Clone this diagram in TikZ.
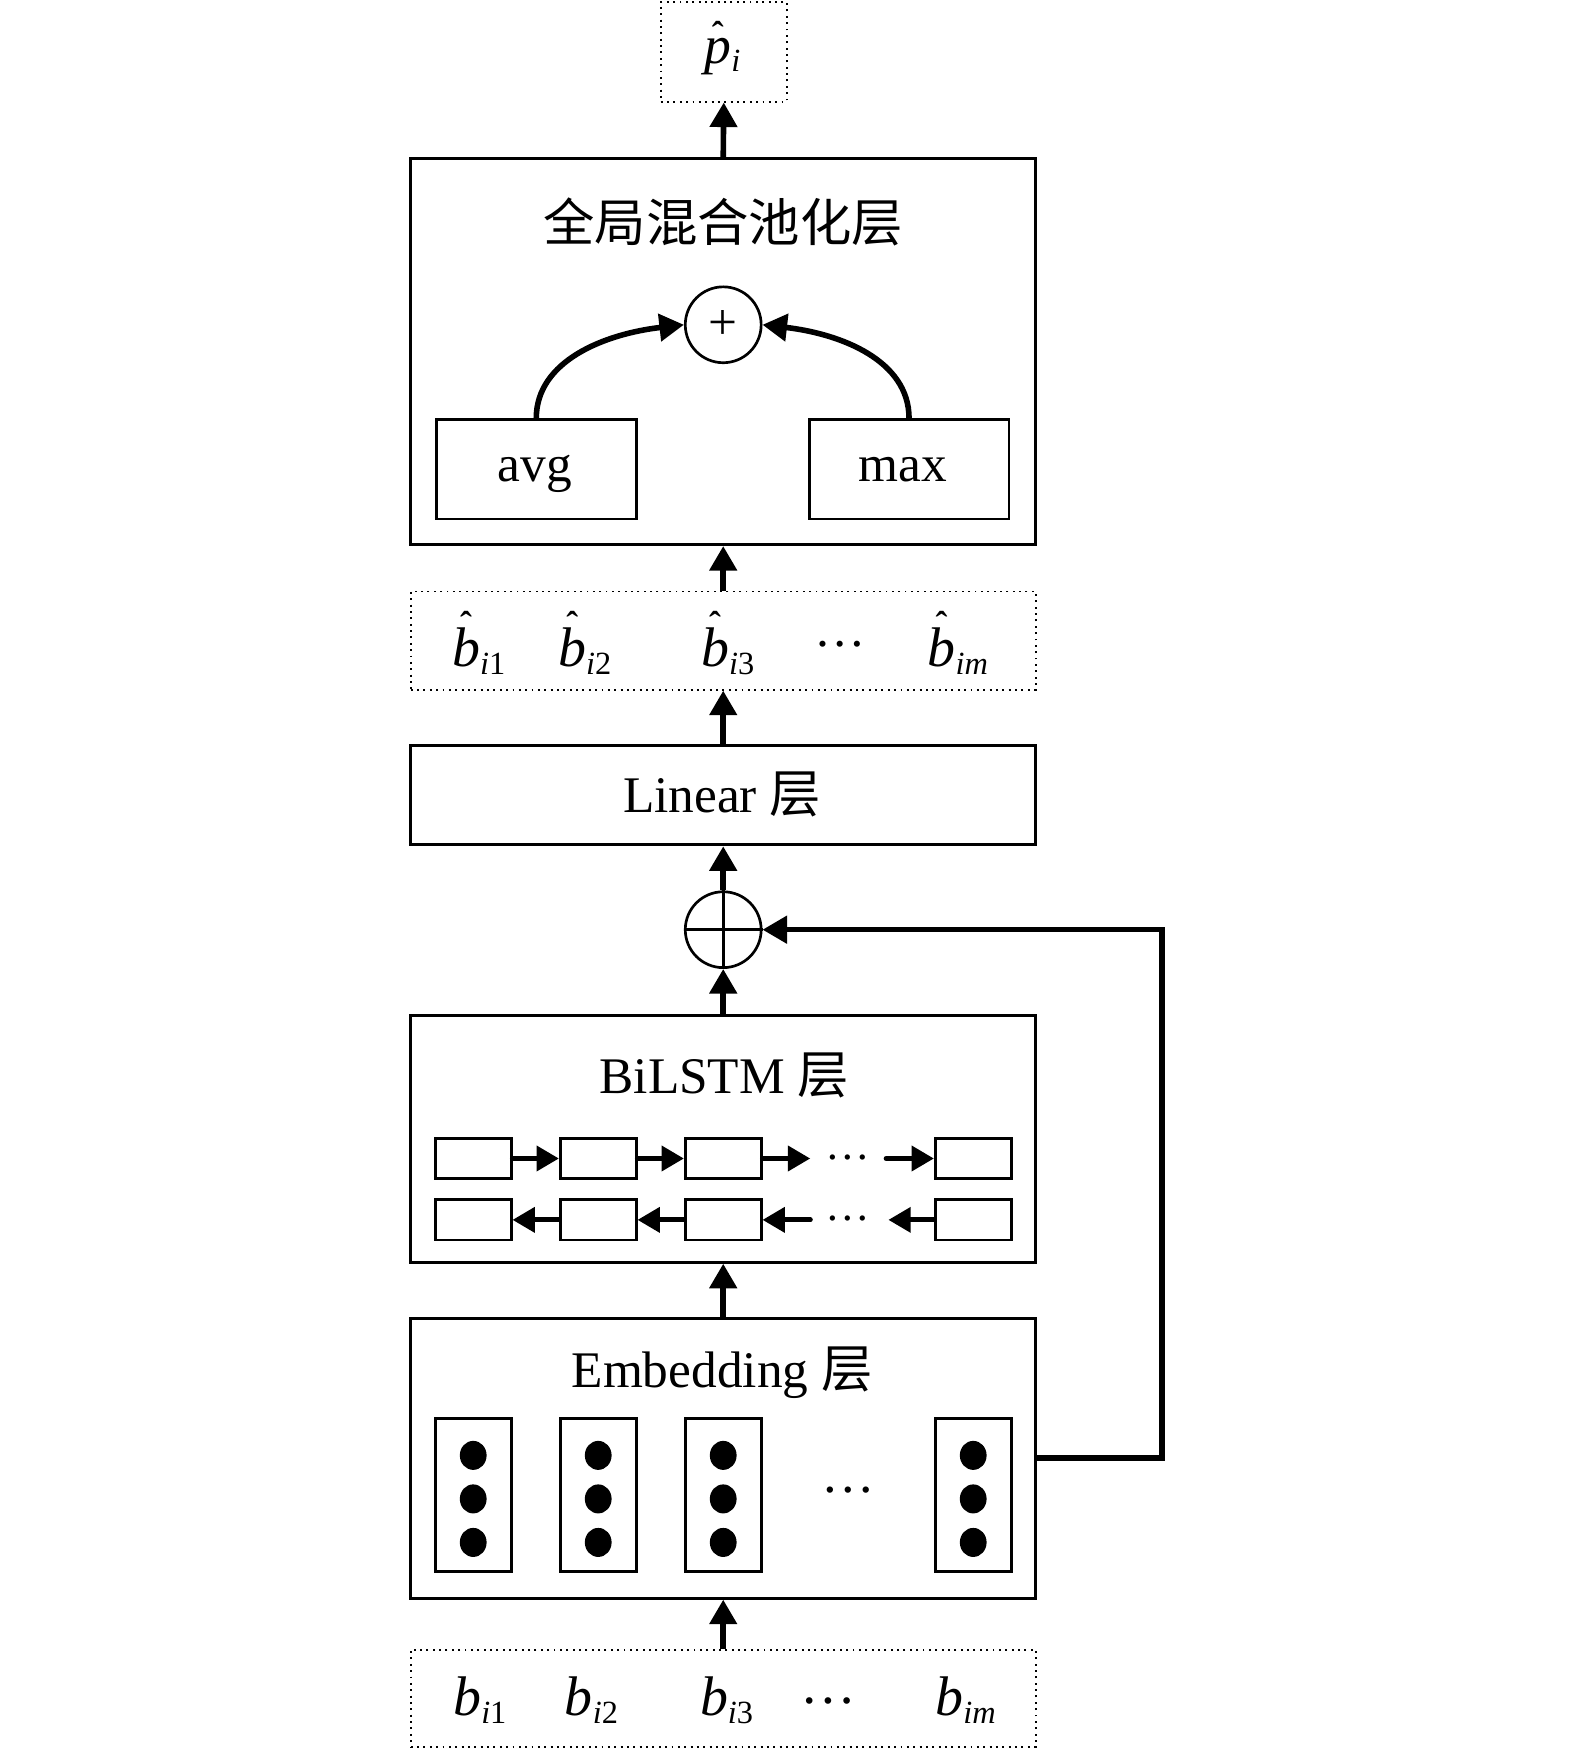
\documentclass[tikz,border=0pt]{standalone}
\usepackage{fontspec}
\setmainfont{Liberation Serif}
\newfontfamily\cjk{Noto Sans CJK SC}
\usetikzlibrary{arrows.meta}
\newsavebox\hatbox
\newcommand\hatit[2]{\sbox\hatbox{\itshape #1}\rlap{\hbox to \wd\hatbox{\hss\raisebox{#2}{\fontsize{32}{32}\selectfont\bfseries ˆ}\hss}}\usebox\hatbox}
\newcommand\subsc[1]{\raisebox{-7pt}{\fontsize{29}{30}\selectfont #1}}
\begin{document}
\begin{tikzpicture}[x=1pt,y=-1pt,
 layer/.style={draw, line width=2.6pt, inner sep=0pt, minimum width=560pt},
 dotbox/.style={draw, line width=1.7pt, dash pattern=on 1.7pt off 4pt, inner sep=0pt},
 cell/.style={draw, line width=2.4pt, inner sep=0pt, minimum width=68pt, minimum height=36pt},
 vecbox/.style={draw, line width=2.4pt, inner sep=0pt, minimum width=68pt, minimum height=137pt},
 arr/.style={line width=5pt, -{Triangle[length=22pt,width=24pt]}},
 sarr/.style={line width=4.5pt, line cap=round, -{Triangle[length=20pt,width=22pt]}},
 lbl/.style={inner sep=0pt, font=\fontsize{46}{50}\selectfont, anchor=base},
 mth/.style={inner sep=0pt, font=\fontsize{50}{60}\selectfont, anchor=base west},
 dts/.style={inner sep=0pt, font=\fontsize{#1}{#1}\selectfont},
]
\useasboundingbox (0,0) rectangle (1411,1568);

% output
\node[dotbox, minimum width=113pt, minimum height=89pt] (phat) at (648.5,46.5) {};
\node[mth, font=\fontsize{48}{56}\selectfont] (phatt) at (631,57) {\hatit{p}{15pt}\subsc{\textit{i}}};

% pooling layer
\node[layer, minimum height=346pt] (pool) at (648,315) {};
\node[lbl] (tpool) at (648,216) {\cjk 全局混合池化层};
\node[draw, circle, line width=2.4pt, minimum size=68pt, inner sep=0pt] (splus) at (648,291) {};
\node[inner sep=0pt, font=\fontsize{46}{50}\selectfont] (plust) at (648,291) {+};
\node[draw, line width=2.4pt, minimum width=179pt, minimum height=89pt, inner sep=0pt] (avg) at (480.5,420.5) {};
\node[draw, line width=2.4pt, minimum width=179pt, minimum height=89pt, inner sep=0pt] (max) at (814.5,420.5) {};
\node[lbl] (tavg) at (479,431) {avg};
\node[lbl] (tmax) at (809,431) {max};
\draw[arr] (avg.north) .. controls +(0,-52) and +(-70,8) .. (splus.west);
\draw[arr] (max.north) .. controls +(0,-52) and +(70,8) .. (splus.east);

% b hat row
\node[dotbox, minimum width=560pt, minimum height=88pt] (bhat) at (648,574) {};
\node[mth] (bh1) at (405,597) {\hatit{b}{27pt}\subsc{\textit{i}1}};
\node[mth] (bh2) at (500,597) {\hatit{b}{27pt}\subsc{\textit{i}2}};
\node[mth] (bh3) at (628,597) {\hatit{b}{27pt}\subsc{\textit{i}3}};
\node[dts=46] (bhd) at (753,577) {…};
\node[mth] (bhm) at (831,597) {\hatit{b}{27pt}\subsc{\textit{im}}};

% linear
\node[layer, minimum height=89pt] (linear) at (648,712.5) {};
\node[lbl] (tlin) at (647,728) {Linear {\cjk 层}};

% residual add
\node[draw, circle, line width=2.4pt, minimum size=68pt, inner sep=0pt] (oplus) at (648,833) {};
\draw[line width=2.4pt] (oplus.north) -- (oplus.south) (oplus.west) -- (oplus.east);

% BiLSTM
\node[layer, minimum height=221pt] (bilstm) at (648,1020.5) {};
\node[lbl] (tbil) at (649,980) {BiLSTM {\cjk 层}};
\node[cell] (f1) at (424,1038) {};
\node[cell] (f2) at (536,1038) {};
\node[cell] (f3) at (648,1038) {};
\node[cell] (f4) at (872,1038) {};
\node[cell] (g1) at (424,1093) {};
\node[cell] (g2) at (536,1093) {};
\node[cell] (g3) at (648,1093) {};
\node[cell] (g4) at (872,1093) {};
\coordinate (fa) at (726,1038);
\coordinate (fb) at (794,1038);
\coordinate (ga) at (726,1093);
\coordinate (gb) at (796,1093);
\draw[sarr] (f1.east) -- (f2.west);
\draw[sarr] (f2.east) -- (f3.west);
\draw[sarr] (f3.east) -- (fa);
\draw[sarr] (fb) -- (f4.west);
\draw[sarr] (g2.west) -- (g1.east);
\draw[sarr] (g3.west) -- (g2.east);
\draw[sarr] (ga) -- (g3.east);
\draw[sarr] (g4.west) -- (gb);
\node[dts=40] (fd) at (760,1037) {…};
\node[dts=40] (gd) at (760,1092) {…};

% Embedding
\node[layer, minimum height=251pt] (emb) at (648,1306.5) {};
\node[lbl] (temb) at (647,1243) {Embedding {\cjk 层}};
\foreach \n/\x in {1/424,2/536,3/648,4/872}{
  \node[vecbox] (v\n) at (\x,1339.5) {};
  \foreach \y in {1304,1343,1382}{
    \fill (\x,\y) ellipse [x radius=12, y radius=13];
  }
}
\node[dts=48] (ed) at (760,1335) {…};

% input row
\node[dotbox, minimum width=560pt, minimum height=87pt] (bin) at (648,1521.5) {};
\node[mth] (b1) at (406,1537) {\textit{b}\subsc{\textit{i}1}};
\node[mth] (b2) at (506,1537) {\textit{b}\subsc{\textit{i}2}};
\node[mth] (b3) at (627,1537) {\textit{b}\subsc{\textit{i}3}};
\node[dts=50] (bd) at (742,1524) {…};
\node[mth] (bm) at (838,1537) {\textit{b}\subsc{\textit{im}}};

% main flow arrows
\draw[arr] (bin.north) -- (emb.south);
\draw[arr] (emb.north) -- (bilstm.south);
\draw[arr] (bilstm.north) -- (oplus.south);
\draw[arr] (oplus.north) -- (linear.south);
\draw[arr] (linear.north) -- (bhat.south);
\draw[arr] (bhat.north) -- (pool.south);
\draw[arr] (pool.north) -- (phat.south);

% skip connection
\coordinate (sk1) at (1041,1306.5);
\coordinate (sk2) at (1041,833);
\draw[arr] (emb.east) -- (sk1) -- (sk2) -- (oplus.east);
\end{tikzpicture}
\end{document}
